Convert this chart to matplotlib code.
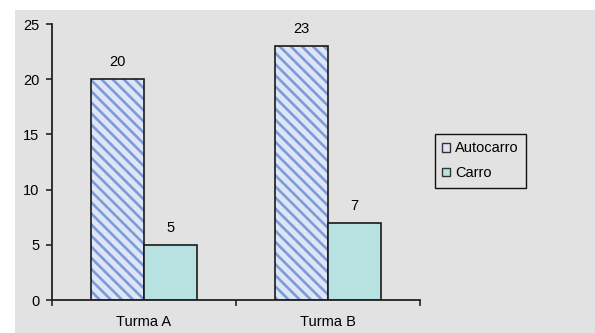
import matplotlib.pyplot as plt
import numpy as np
from matplotlib.patches import Rectangle

plt.rcParams['font.family'] = ['Liberation Sans', 'DejaVu Sans']
plt.rcParams['hatch.linewidth'] = 1.9

turmas = ["Turma A", "Turma B"]
autocarro = [20, 23]
carro = [5, 7]

fig = plt.figure(figsize=(5.95, 3.33), dpi=100)
fig.patches.append(Rectangle((15 / 595, 0), 1, 323 / 333, transform=fig.transFigure,
                             facecolor='#e2e2e2', edgecolor='none', zorder=-10))

ax = fig.add_axes([52 / 595, 33 / 333, 368 / 595, 276 / 333])
ax.set_facecolor('none')

x = np.arange(len(turmas))
w = 0.288
# hatched fill first (hatch takes the edge colour), then the dark outline on top
ax.bar(x - w / 2, autocarro, w, facecolor='#dde5f6', edgecolor='#7d9bd6',
       linewidth=0, hatch='\\\\\\')
b1 = ax.bar(x - w / 2, autocarro, w, fill=False, edgecolor='#1a1a1a', linewidth=1.2)
b2 = ax.bar(x + w / 2, carro, w, facecolor='#b8e2e2', edgecolor='#1a1a1a', linewidth=1.2)

for bars, vals in ((b1, autocarro), (b2, carro)):
    for r, v in zip(bars, vals):
        ax.annotate(str(v), (r.get_x() + r.get_width() / 2, v), xytext=(0, 7),
                    textcoords='offset points', ha='center', va='bottom', fontsize=10.5)

ax.set_xlim(-0.5, 1.5)
ax.set_ylim(0, 25)
ax.set_yticks(range(0, 26, 5))
ax.set_xticks([-0.5, 0.5, 1.5])
ax.set_xticklabels([])
ax.set_xticks(x, minor=True)
ax.set_xticklabels(turmas, minor=True)
ax.tick_params(axis='x', which='minor', length=0, pad=11, labelsize=10.5)
ax.tick_params(axis='x', which='major', length=4, width=1.2, color='#222222')
ax.tick_params(axis='y', length=4, width=1.2, color='#222222', labelsize=10.5, pad=5)
for s in ('top', 'right'):
    ax.spines[s].set_visible(False)
for s in ('left', 'bottom'):
    ax.spines[s].set_linewidth(1.3)
    ax.spines[s].set_color('#222222')

h1 = Rectangle((0, 0), 1, 1, facecolor='#dde5f6', edgecolor='#333333', linewidth=1)
h2 = Rectangle((0, 0), 1, 1, facecolor='#b8e2e2', edgecolor='#333333', linewidth=1)
leg = fig.legend(handles=[h1, h2], labels=['Autocarro', 'Carro'], loc='upper left',
                 bbox_to_anchor=(435 / 595, 1 - 134 / 333), fontsize=10.5,
                 fancybox=False, framealpha=1, facecolor='#e2e2e2', edgecolor='#111111',
                 handlelength=0.55, handleheight=0.55, handletextpad=0.35,
                 borderpad=0.5, labelspacing=0.75, borderaxespad=0)
leg.get_frame().set_linewidth(1.0)

fig.savefig('out.png', dpi=100)
